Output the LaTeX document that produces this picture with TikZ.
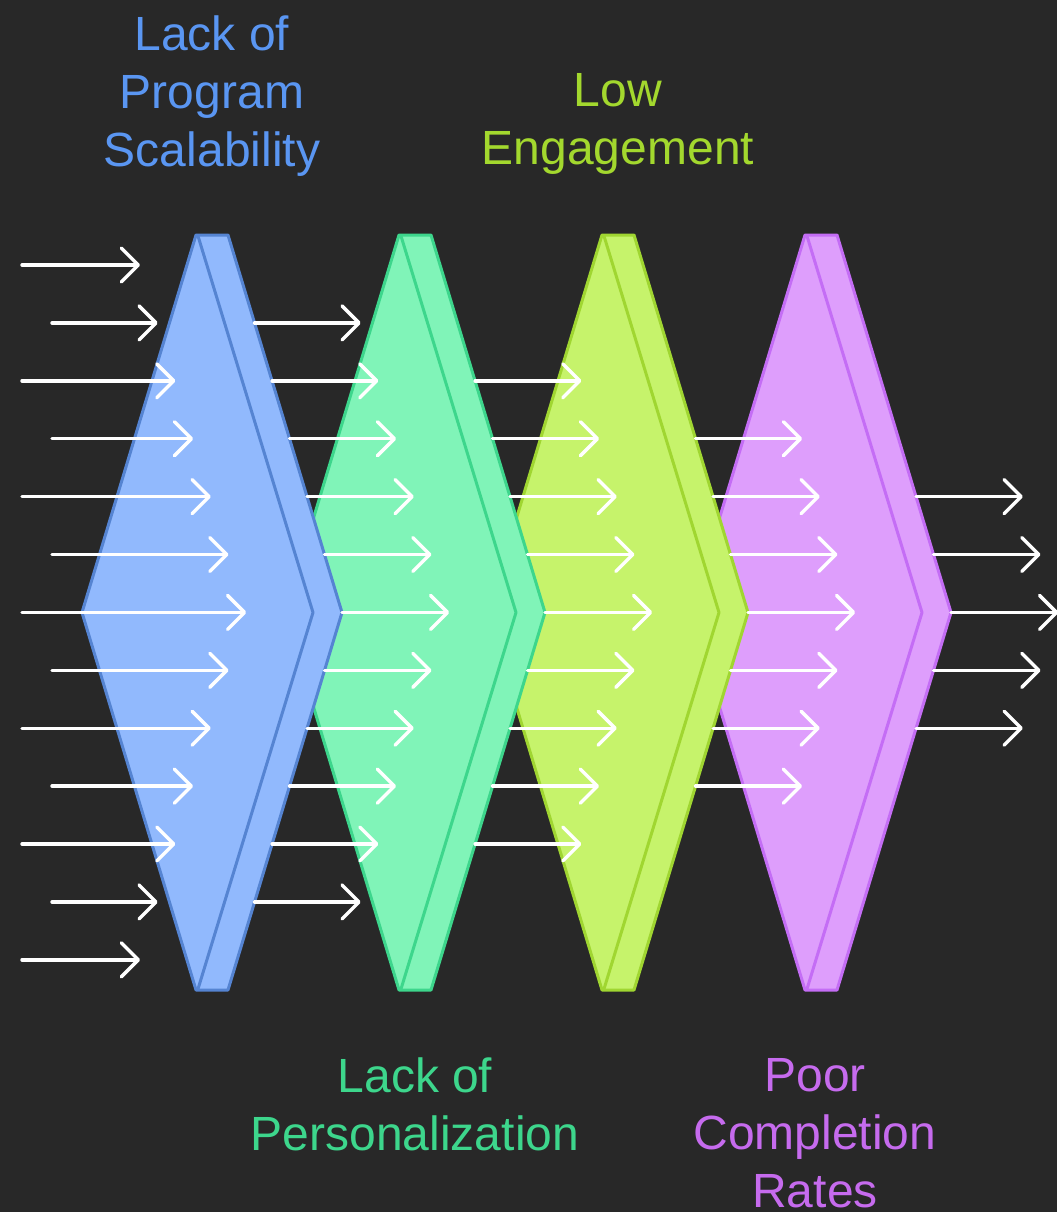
\documentclass[tikz,border=0pt]{standalone}
\usepackage{fontspec}
\setmainfont{Liberation Sans}
\usetikzlibrary{arrows.meta}
\definecolor{bg}{HTML}{282828}
\definecolor{bluefill}{HTML}{91B9FD}
\definecolor{bluestroke}{HTML}{5584D2}
\definecolor{bluetext}{HTML}{5A96F2}
\definecolor{greenfill}{HTML}{80F4B8}
\definecolor{greenstroke}{HTML}{3DD68C}
\definecolor{greentext}{HTML}{3DD68C}
\definecolor{yellowfill}{HTML}{C6F36B}
\definecolor{yellowstroke}{HTML}{A0D631}
\definecolor{yellowtext}{HTML}{A3D82E}
\definecolor{purplefill}{HTML}{DE9EFC}
\definecolor{purplestroke}{HTML}{C46DF5}
\definecolor{purpletext}{HTML}{C66BEE}
\begin{document}
\begin{tikzpicture}[x=1pt,y=-1pt,
  flow/.style={draw=white,line width=3.4pt,line cap=round,
    -{Straight Barb[length=17pt,width=34pt,line join=round,line cap=round]}},
  prism/.style={line width=3pt,line join=round},
  lbl/.style={font=\fontsize{48}{58}\selectfont,align=center,anchor=north,inner sep=0pt}]
\fill[bg] (0,0) rectangle (1057,1212);
\useasboundingbox (0,0) rectangle (1057,1212);
% prisms, drawn right to left so the left one lies on top
\foreach \k/\fc/\sc in {3/purplefill/purplestroke,2/yellowfill/yellowstroke,1/greenfill/greenstroke,0/bluefill/bluestroke}{
  \pgfmathsetmacro\dx{203*\k}
  \draw[prism,fill=\fc,draw=\sc] ({196+\dx},235) -- ({228+\dx},235) -- ({342+\dx},612.5)
     -- ({228+\dx},990) -- ({196+\dx},990) -- ({82+\dx},612.5) -- cycle;
  \draw[prism,draw=\sc] ({198+\dx},236) -- ({313+\dx},612.5) -- ({198+\dx},989);
}
% incoming arrows
\foreach \i in {0,...,12}{
  \pgfmathsetmacro\yy{265+57.9*\i}
  \pgfmathsetmacro\xs{mod(\i,2)==0 ? 22 : 52}
  \pgfmathsetmacro\xe{140+17.7*min(\i,12-\i)}
  \draw[flow] (\xs,\yy) -- (\xe,\yy);
}
% arrows leaving each prism
\foreach \k in {1,...,4}{
  \pgfmathtruncatemacro\kk{12-\k}
  \foreach \i in {\k,...,\kk}{
    \pgfmathsetmacro\yy{265+57.9*\i}
    \pgfmathsetmacro\xs{342+203*(\k-1)-abs(\yy-612.5)/377.5*114}
    \pgfmathsetmacro\xe{140+203*\k+17.7*min(\i,12-\i)}
    \draw[flow] (\xs,\yy) -- (\xe,\yy);
  }
}
% labels
\node[lbl,text=bluetext] (t1) at (212,16) {Lack of\\Program\\Scalability};
\node[lbl,text=yellowtext] (t3) at (618,73) {Low\\Engagement};
\node[lbl,text=greentext] (t2) at (415,1058) {Lack of\\Personalization};
\node[lbl,text=purpletext] (t4) at (815,1058) {Poor\\Completion\\Rates};
\end{tikzpicture}
\end{document}
